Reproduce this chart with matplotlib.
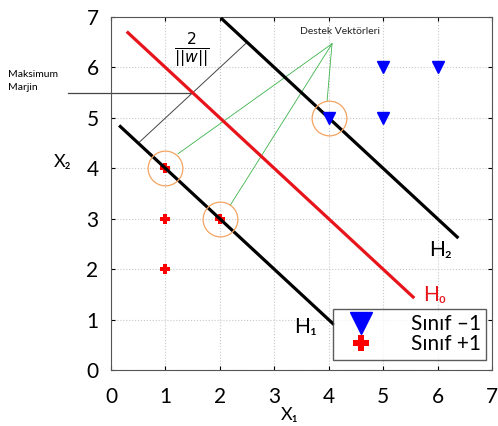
import numpy as np
import matplotlib
matplotlib.use('Agg')
import matplotlib.pyplot as plt
from matplotlib.lines import Line2D

plt.rcParams['font.family'] = ['Lato', 'DejaVu Sans']

# Dane
neg_x = [4, 5, 5, 6]
neg_y = [5, 5, 6, 6]
pos_x = [1, 1, 1, 2]
pos_y = [4, 3, 2, 3]
sv_x = [1, 2, 4]
sv_y = [4, 3, 5]

# hiperplaszczyzny x1 + x2 = c
h1_c, h1_x = 5, [0.17, 4.08]
h0_c, h0_x = 7, [0.31, 5.55]
h2_c, h2_x = 9, [2.04, 6.36]

fig = plt.figure(figsize=(4.98, 4.26), dpi=100)
ax = fig.add_axes([0.223, 0.131, 0.765, 0.829])

ax.set_xlim(0, 7)
ax.set_ylim(0, 7)
ax.set_xticks(range(8))
ax.set_yticks(range(8))
ax.tick_params(direction='in', length=3, labelsize=15, top=True, right=True)
ax.tick_params(axis='x', pad=12)
ax.tick_params(axis='y', pad=9)
ax.grid(True, linestyle=':', color='#c8c8c8', linewidth=0.8)
for s in ax.spines.values():
    s.set_color('#555555')

# linie
for c, xs, col in [(h1_c, h1_x, 'black'), (h0_c, h0_x, '#e8141c'), (h2_c, h2_x, 'black')]:
    xs = np.array(xs)
    ax.plot(xs, c - xs, color=col, linewidth=2.3, zorder=3)

# margines
ax.plot([0.5, 2.5], [4.5, 6.5], color='#444444', linewidth=0.7, zorder=2)
ax.plot([-0.8, 1.5], [5.5, 5.5], color='#444444', linewidth=0.9, clip_on=False, zorder=2)

# linie do wektorow nosnych
anchor = (4.06, 6.47)
for ex, ey in [(1.23, 4.29), (2.19, 3.27), (3.97, 5.34)]:
    ax.plot([anchor[0], ex], [anchor[1], ey], color='#3cb44b', linewidth=0.6, zorder=2)

# punkty
ax.plot(neg_x, neg_y, 'v', color='#0000ff', markersize=8, zorder=4, linestyle='none')
ax.plot(pos_x, pos_y, 'P', color='#ff0000', markersize=7, markeredgewidth=0, zorder=2, linestyle='none')
ax.plot(sv_x, sv_y, 'o', markerfacecolor='none', markeredgecolor='#f4a460',
        markersize=25, markeredgewidth=0.9, zorder=4, linestyle='none')

# teksty
ax.text(4.2, 6.62, 'Destek Vektörleri', fontsize=7.5, ha='center', va='bottom', color='#222222')
ax.text(1.49, 6.35, r'$\frac{2}{||w||}$', fontsize=16, ha='center', va='center')
fig.text(0.016, 0.81, 'Maksimum\nMarjin', fontsize=7.5, ha='left', va='center', linespacing=1.5)
ax.text(6.05, 2.38, 'H₂', fontsize=15, ha='center', va='center')
ax.text(5.95, 1.5, 'H₀', fontsize=15, ha='center', va='center', color='#e8141c')
ax.text(3.57, 0.85, 'H₁', fontsize=15, ha='center', va='center')

ax.set_xlabel('X₁', fontsize=13)
ax.xaxis.set_label_coords(0.47, -0.105)
ax.set_ylabel('X₂', fontsize=13, rotation=0)
ax.yaxis.set_label_coords(-0.128, 0.567)

handles = [Line2D([], [], marker='v', color='#0000ff', markersize=16, linestyle='none'),
           Line2D([], [], marker='P', color='#ff0000', markersize=12, markeredgewidth=0, linestyle='none')]
leg = ax.legend(handles, ['Sınıf –1', 'Sınıf +1'], loc='lower right', bbox_to_anchor=(0.985, 0.03),
                borderaxespad=0, fontsize=15, frameon=True, fancybox=False, edgecolor='#333333',
                borderpad=0.25, handletextpad=1.3, labelspacing=0.0, handlelength=2.2)
leg.get_frame().set_linewidth(1.0)

fig.savefig('out.png', dpi=100)
